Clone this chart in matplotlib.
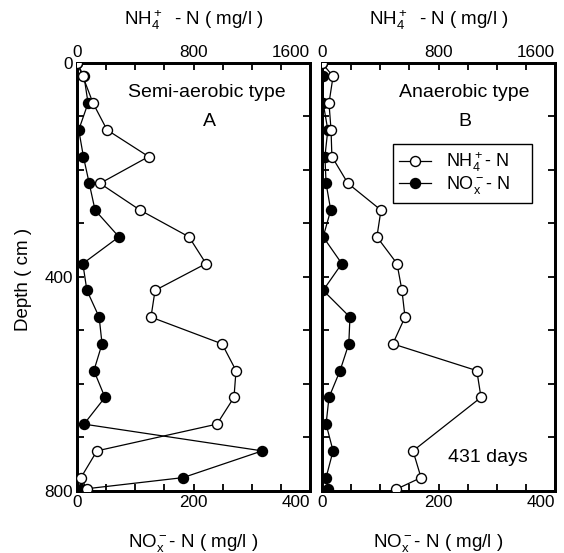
import matplotlib
matplotlib.use("Agg")
import matplotlib.pyplot as plt
import numpy as np

plt.rcParams['font.family'] = ['Liberation Sans', 'DejaVu Sans']
plt.rcParams['mathtext.fontset'] = 'custom'
plt.rcParams['mathtext.rm'] = 'Liberation Sans'
plt.rcParams['mathtext.it'] = 'Liberation Sans:italic'
plt.rcParams['mathtext.bf'] = 'Liberation Sans:bold'

# ---- data ----
depth_a = [0, 25, 75, 125, 175, 225, 275, 325, 375, 425, 475, 525, 575, 625, 675, 725, 775, 797]
nh4_a = [0, 40, 110, 206, 492, 158, 433, 769, 886, 536, 508, 996, 1092, 1078, 961, 137, 27, 69]
nox_a = [0, 12, 19, 3, 11, 21, 31, 72, 10, 17, 38, 43, 29, 48, 12, 318, 182, 7]

depth_b_nh4 = [0, 25, 75, 125, 175, 225, 275, 325, 375, 425, 475, 525, 575, 625, 725, 775, 797]
nh4_b = [0, 76, 48, 62, 68, 178, 405, 377, 515, 549, 570, 486, 1063, 1092, 625, 680, 508]
depth_b_nox = [0, 25, 75, 125, 175, 225, 275, 325, 375, 425, 475, 525, 575, 625, 675, 725, 775, 797]
nox_b = [0, 2, 2, 10, 5, 7, 15, 2, 34, 2, 48, 46, 31, 12, 7, 19, 7, 10]

depth_ticks = [0, 100, 200, 300, 400, 500, 600, 700, 800]
depth_labels = ['0', '', '', '', '400', '', '', '', '800']
nox_ticks = [0, 50, 100, 150, 200, 250, 300, 350, 400]
nox_labels = ['0', '', '', '', '200', '', '', '', '400']
nh4_ticks = [0, 200, 400, 600, 800, 1000, 1200, 1400, 1600]
nh4_labels = ['0', '', '', '', '800', '', '', '', '1600']

W, H = 564, 553
fig = plt.figure(figsize=(W / 100, H / 100), dpi=100)

top_px, bot_px = 63, 491
panels = [(77, 310), (322, 555)]
fs = 12.3
lfs = 13.5

axes = []
for i, (l, r) in enumerate(panels):
    ax = fig.add_axes([l / W, 1 - bot_px / H, (r - l) / W, (bot_px - top_px) / H])
    ax2 = ax.twiny()
    ax.set_xlim(0, 400)
    ax2.set_xlim(0, 1600)
    ax.set_ylim(800, 0)
    for a in (ax, ax2):
        for s in a.spines.values():
            s.set_linewidth(2)
    ax.set_xticks(nox_ticks)
    ax.set_xticklabels(nox_labels, fontsize=fs)
    ax2.set_xticks(nh4_ticks)
    ax2.set_xticklabels(nh4_labels, fontsize=fs)
    ax.get_xticklabels()[-1].set_horizontalalignment('right')
    ax2.get_xticklabels()[-1].set_horizontalalignment('right')
    ax.set_yticks(depth_ticks)
    if i == 0:
        ax.set_yticklabels(depth_labels, fontsize=fs)
    else:
        ax.set_yticklabels([''] * len(depth_ticks))
    ax.tick_params(axis='both', direction='in', length=5, width=1.3, right=True, pad=3)
    ax2.tick_params(axis='x', direction='in', length=5, width=1.3, pad=2)
    axes.append((ax, ax2))

mk = dict(markersize=7.2, markeredgewidth=1.0, linewidth=0.9, color='black', clip_on=True)

axA, axA2 = axes[0]
h1, = axA2.plot(nh4_a, depth_a, marker='o', markerfacecolor='white', zorder=3, **mk)
h2, = axA.plot(nox_a, depth_a, marker='o', markerfacecolor='black', zorder=4, **mk)
axA2.set_zorder(axA.get_zorder() + 1)
axA2.patch.set_visible(False)

axB, axB2 = axes[1]
axB2.plot(nh4_b, depth_b_nh4, marker='o', markerfacecolor='white', zorder=3, **mk)
axB.plot(nox_b, depth_b_nox, marker='o', markerfacecolor='black', zorder=4, **mk)
axB2.set_zorder(axB.get_zorder() + 1)
axB2.patch.set_visible(False)

# texts
tfs = 14
axA.text((207 - 77) / 233, (491 - 93) / 428, 'Semi-aerobic type', transform=axA.transAxes, ha='center', va='center', fontsize=tfs)
axA.text((209 - 77) / 233, (491 - 122) / 428, 'A', transform=axA.transAxes, ha='center', va='center', fontsize=tfs)
axB.text((464 - 322) / 233, (491 - 93) / 428, 'Anaerobic type', transform=axB.transAxes, ha='center', va='center', fontsize=tfs)
axB.text((465 - 322) / 233, (491 - 122) / 428, 'B', transform=axB.transAxes, ha='center', va='center', fontsize=tfs)
axB.text((488 - 322) / 233, (491 - 457) / 428, '431 days', transform=axB.transAxes, ha='center', va='center', fontsize=tfs)

lx0 = (393 - 322) / 233
lx1 = (532 - 322) / 233
ly1 = (491 - 144) / 428
leg = axB2.legend([h1, h2], ['NH$_4^+$- N', r'NO$_\mathrm{x}^-$- N'], loc='upper left',
                  bbox_to_anchor=(lx0, ly1 - 0.2, lx1 - lx0, 0.2), mode='expand',
                  fancybox=False, edgecolor='black',
                  framealpha=1, fontsize=13, handlelength=1.75, borderpad=0.35,
                  labelspacing=0.02, handletextpad=0.85, borderaxespad=0)
leg.get_frame().set_linewidth(1.0)

for l, r in panels:
    cx = (l + r) / 2 / W
    fig.text(cx, 1 - 20 / H, 'NH$_4^+$  - N ( mg/l )', ha='center', va='center', fontsize=lfs)
    fig.text(cx, 1 - 543 / H, r'NO$_\mathrm{x}^-$- N ( mg/l )', ha='center', va='center', fontsize=lfs)
fig.text(24 / W, 1 - 279 / H, 'Depth ( cm )', rotation=90, ha='center', va='center', fontsize=lfs)

fig.savefig('out.png', dpi=100)
